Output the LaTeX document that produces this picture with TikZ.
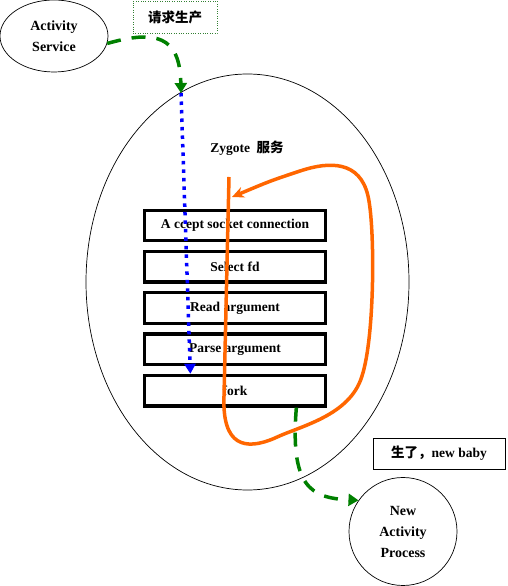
\documentclass[tikz,border=0pt]{standalone}
\usepackage{fontspec}
\setmainfont{Liberation Serif}
\newfontfamily\cjk{Noto Sans CJK SC}
\usepackage{tikz}
\usetikzlibrary{arrows.meta,positioning,calc,shapes.geometric}

\definecolor{flowgreen}{RGB}{0,128,0}
\definecolor{loopor}{RGB}{255,102,0}

\begin{document}
\begin{tikzpicture}[x=1pt, y=1pt,
  stepbox/.style={rectangle, draw, line width=3.3pt, minimum width=181pt, minimum height=30.5pt, inner sep=0pt, font=\bfseries\fontsize{13.5}{15}\selectfont},
  proc/.style={draw, line width=0.7pt, inner sep=0pt, align=center, font=\bfseries\fontsize{14}{21}\selectfont},
  note/.style={rectangle, draw, inner sep=0pt, font=\bfseries\fontsize{13.5}{15}\selectfont},
  greenflow/.style={-{Triangle[length=10pt, width=12pt]}, line width=3.5pt, flowgreen, dash pattern=on 14pt off 11pt},
  blueflow/.style={-{Triangle[length=10pt, width=11pt]}, line width=3.5pt, blue, dash pattern=on 3.5pt off 5pt},
  reloop/.style={-{Stealth[length=12pt, width=11pt]}, line width=3.5pt, loopor},
  node distance=7.5pt
]
\useasboundingbox (0,0) rectangle (507,586);

% callers
\node[proc, ellipse, minimum width=108pt, minimum height=72pt] (svc) at (54,550) {Activity\\Service};
\node[note, dotted, draw=flowgreen!60!gray, minimum width=84pt, minimum height=32pt] (ask) at (175,569) {\cjk 请求生产};

% zygote service
\node[draw, ellipse, line width=0.7pt, minimum width=323pt, minimum height=416pt] (zygote) at (247.5,304) {};
\node[font=\bfseries\fontsize{13.5}{15}\selectfont] (title) at (247,438) {Zygote~~{\cjk 服务}};

\node[stepbox] (accept) at (235,360.5) {A ccept socket connection};
\node[stepbox, below=of accept] (select) {Select fd};
\node[stepbox, below=of select] (read) {Read argument};
\node[stepbox, below=of read] (parse) {Parse argument};
\node[stepbox, below=of parse] (fork) {fork};

% child
\node[note, line width=0.8pt, minimum width=132pt, minimum height=31pt] (born) at (439,132.5) {{\cjk 生了，}new baby};
\node[proc, circle, minimum size=108pt] (newproc) at (403,54.5) {New\\Activity\\Process};

\coordinate (entry) at (181,493);
\coordinate (forktop) at ($(fork.north west)+(47.5,0)$);
\coordinate (forkout) at ($(fork.south west)+(153.5,0)$);
\coordinate (looptop) at (229,409);
\coordinate (loopend) at (232,389);

\draw[greenflow] (svc.-8) .. controls (155,556) and (180,551) .. (entry);
\draw[blueflow] (entry) -- (forktop);
\draw[reloop] (looptop) -- (224,190) .. controls (222,140) and (245,135) .. (275,148)
  .. controls (300,160) and (350,170) .. (362,210)
  .. controls (375,250) and (375,360) .. (368,390)
  .. controls (360,425) and (330,425) .. (300,415)
  .. controls (270,405) .. (loopend);
\draw[greenflow] (forkout) .. controls (290,100) and (310,88) .. (newproc.145);

\end{tikzpicture}
\end{document}
